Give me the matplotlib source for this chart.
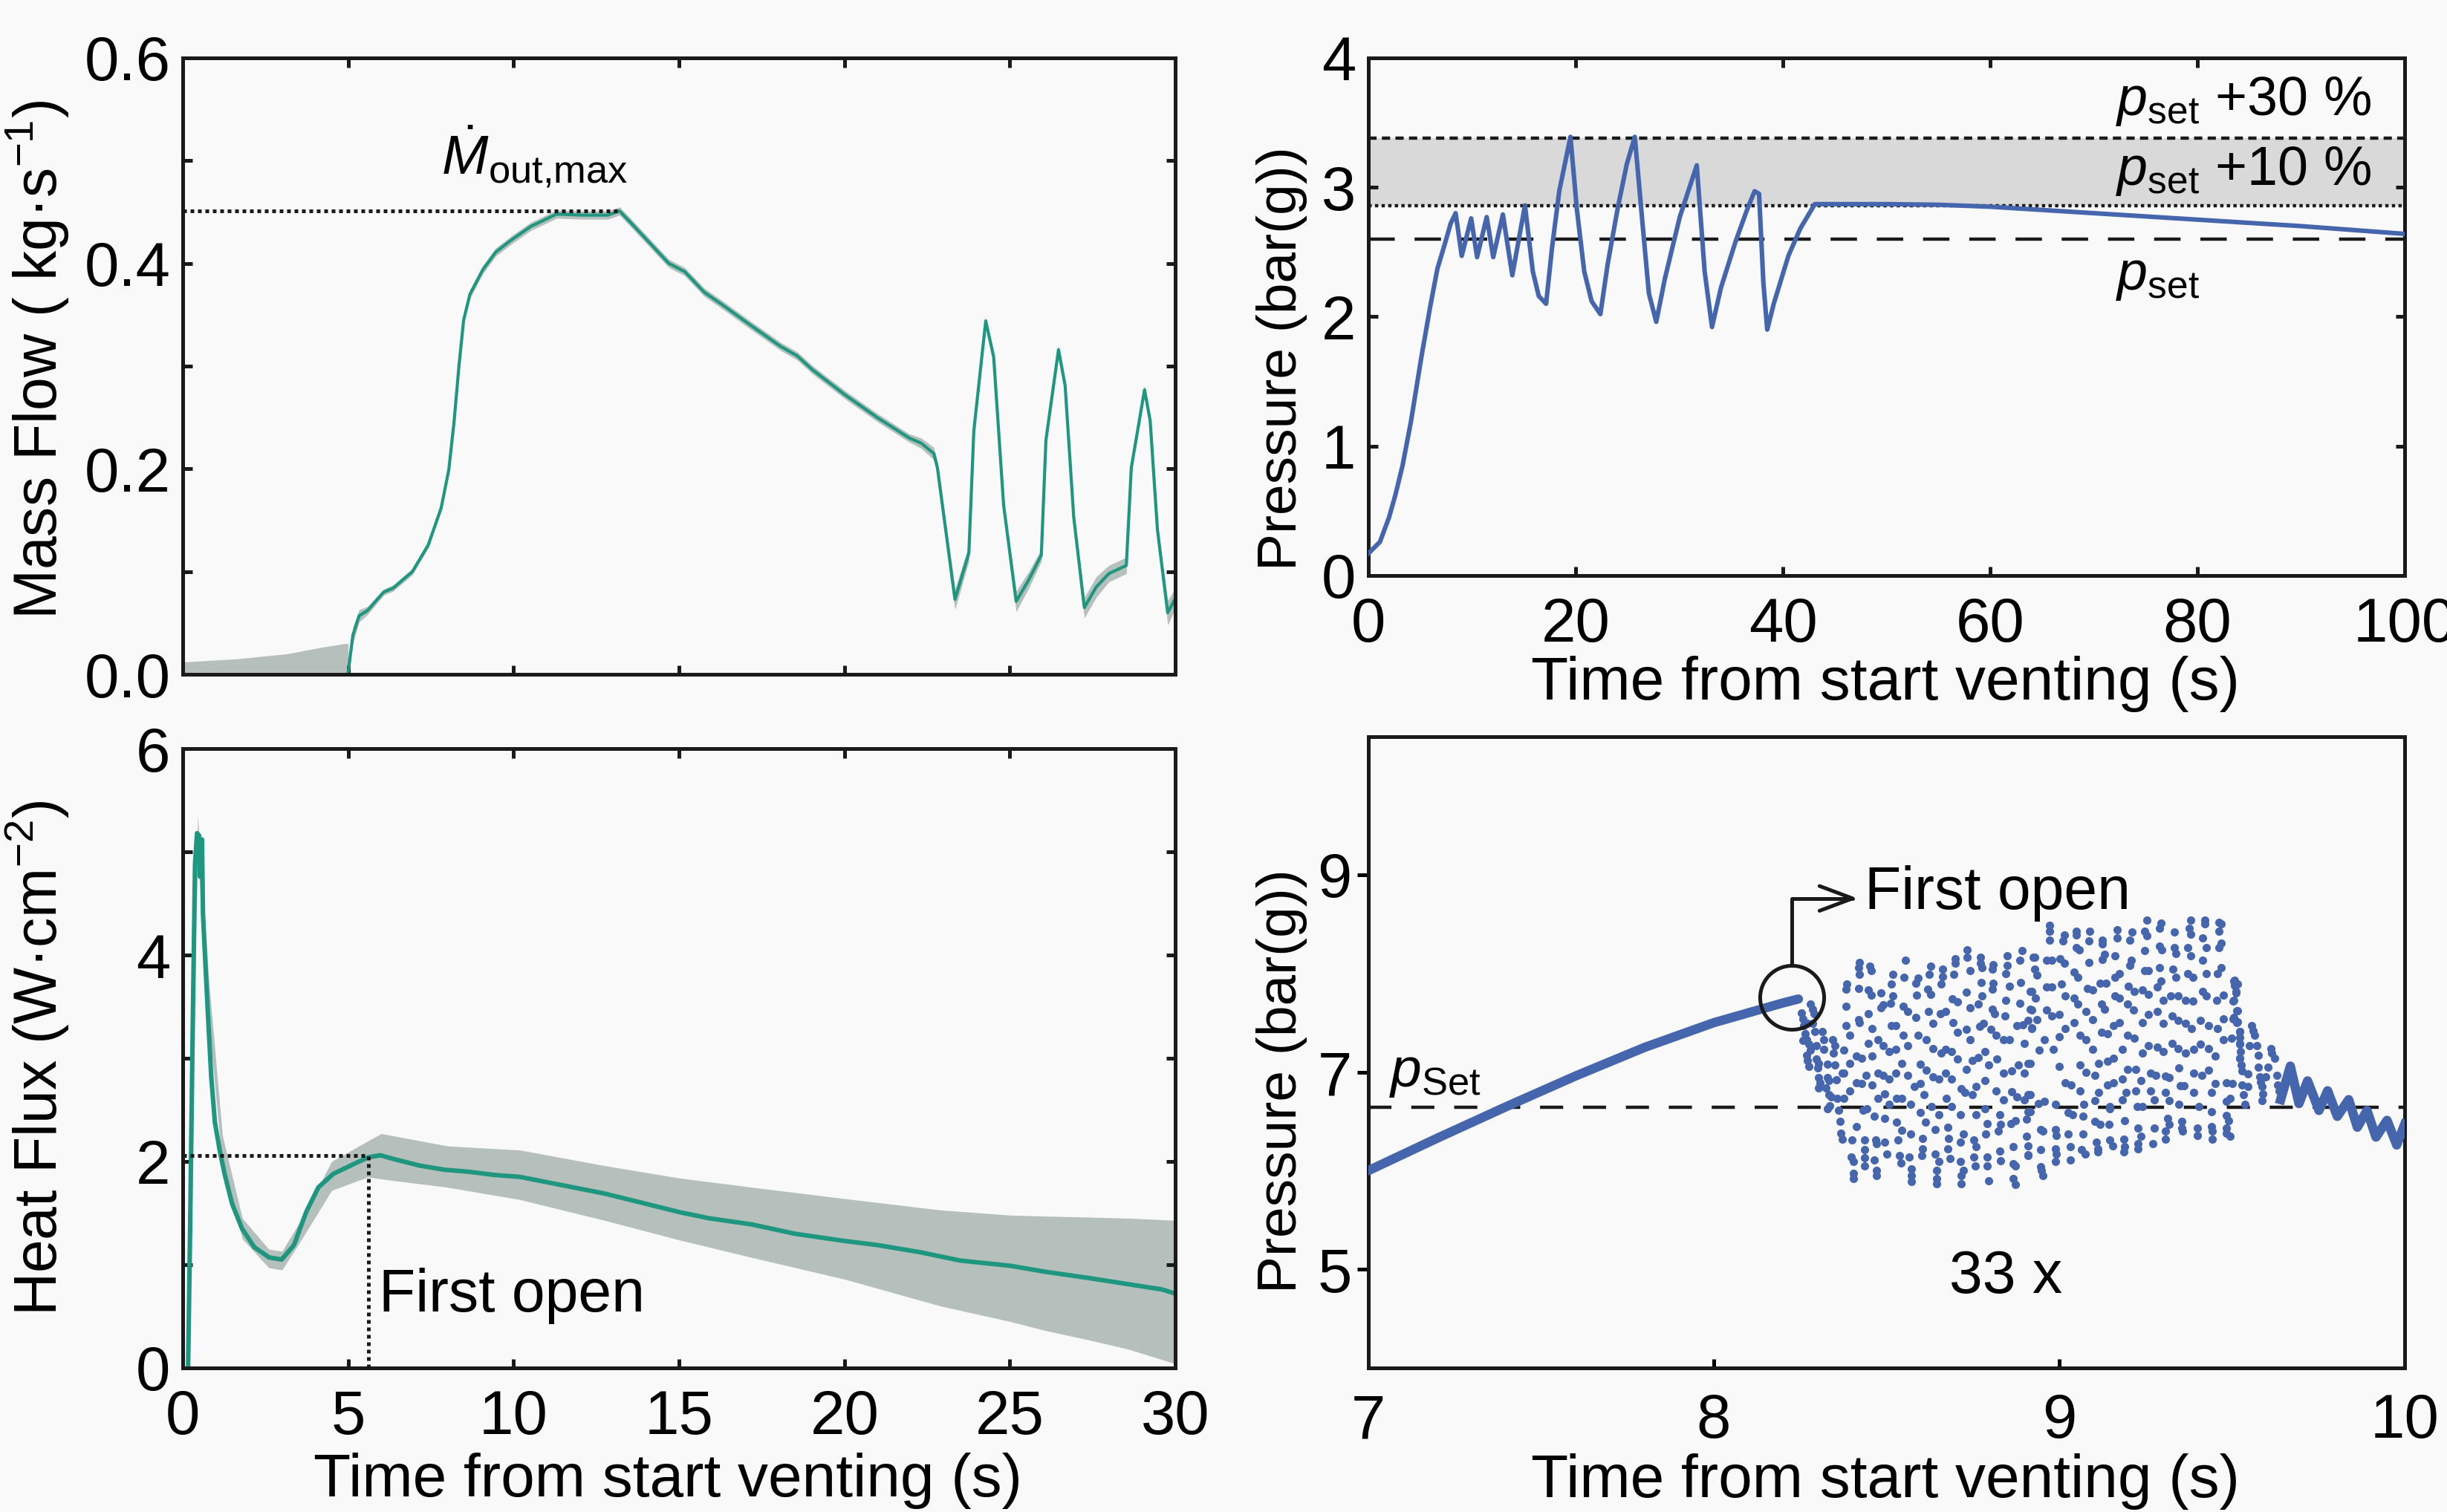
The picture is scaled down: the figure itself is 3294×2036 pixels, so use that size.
import numpy as np
import matplotlib
matplotlib.use('Agg')
import matplotlib.pyplot as plt

REGULAR = ['Liberation Sans', 'DejaVu Sans']
plt.rcParams['font.family'] = REGULAR
plt.rcParams['mathtext.fontset'] = 'custom'
plt.rcParams['mathtext.rm'] = 'Liberation Sans'
plt.rcParams['mathtext.it'] = 'Liberation Sans:italic'
plt.rcParams['mathtext.default'] = 'regular'

# ---- mass flow (top left) ----
mf_t = [5.0, 5.14, 5.33, 5.58, 6.07, 6.36, 6.94, 7.42, 7.81, 8.04, 8.20, 8.35, 8.49, 8.68,
        9.07, 9.46, 9.94, 10.52, 11.30, 12.07, 12.85, 13.20, 13.53, 14.11, 14.69, 15.17,
        15.76, 16.34, 17.11, 18.08, 18.57, 19.05, 20.02, 20.99, 21.96, 22.32, 22.70, 22.81,
        23.34, 23.76, 23.91, 24.27, 24.51, 24.81, 25.19, 25.57, 25.95, 26.09, 26.47, 26.67,
        26.93, 27.25, 27.61, 27.99, 28.52, 28.67, 29.07, 29.24, 29.46, 29.77, 30.0]
mf = [0.002, 0.038, 0.057, 0.062, 0.080, 0.084, 0.100, 0.126, 0.162, 0.199, 0.246, 0.301,
      0.345, 0.370, 0.394, 0.411, 0.423, 0.436, 0.448, 0.447, 0.447, 0.451, 0.440, 0.420,
      0.400, 0.392, 0.372, 0.359, 0.341, 0.319, 0.310, 0.296, 0.272, 0.250, 0.230, 0.225,
      0.215, 0.201, 0.073, 0.118, 0.237, 0.344, 0.309, 0.165, 0.071, 0.092, 0.116, 0.228,
      0.316, 0.281, 0.153, 0.065, 0.085, 0.098, 0.106, 0.201, 0.277, 0.247, 0.141, 0.060,
      0.074]
mf_sd = [0.002, 0.008, 0.006, 0.004, 0.003, 0.003, 0.003, 0.003, 0.003, 0.003, 0.003, 0.003,
         0.003, 0.004, 0.004, 0.004, 0.004, 0.004, 0.004, 0.004, 0.004, 0.004, 0.004, 0.004,
         0.004, 0.004, 0.004, 0.004, 0.004, 0.004, 0.004, 0.004, 0.004, 0.004, 0.004, 0.005,
         0.006, 0.006, 0.010, 0.008, 0.004, 0.004, 0.004, 0.004, 0.010, 0.008, 0.006, 0.004,
         0.004, 0.004, 0.004, 0.010, 0.010, 0.008, 0.008, 0.004, 0.004, 0.004, 0.004, 0.012,
         0.010]
mf_pre_t = [0.0, 1.6, 3.16, 4.13, 4.9, 5.0]
mf_pre_hi = [0.012, 0.015, 0.020, 0.026, 0.030, 0.030]

# ---- heat flux (bottom left) ----
hf_t = [0.16, 0.22, 0.30, 0.37, 0.43, 0.49, 0.52, 0.58, 0.61, 0.67, 0.75, 0.86, 0.97, 1.12,
        1.27, 1.49, 1.79, 2.16, 2.61, 2.99, 3.36, 3.73, 4.10, 4.55, 5.07, 5.60, 5.97, 6.42,
        7.16, 7.91, 8.66, 9.40, 10.2, 11.47, 12.74, 14.0, 15.0, 15.9, 17.2, 18.5, 20.0,
        21.0, 22.3, 23.5, 25.0, 26.1, 27.4, 28.6, 29.6, 30.0]
hf = [0.0, 1.31, 3.29, 4.88, 5.18, 5.16, 4.76, 5.12, 4.40, 4.00, 3.49, 2.82, 2.38, 2.10,
      1.87, 1.59, 1.35, 1.17, 1.07, 1.05, 1.19, 1.51, 1.75, 1.88, 1.96, 2.04, 2.06, 2.02,
      1.96, 1.92, 1.90, 1.87, 1.85, 1.77, 1.69, 1.59, 1.51, 1.45, 1.39, 1.30, 1.23, 1.19,
      1.12, 1.04, 0.99, 0.93, 0.87, 0.81, 0.76, 0.72]
hf_band_t = [0.3, 0.45, 0.8, 1.2, 1.8, 2.6, 3.0, 3.6, 4.5, 5.6, 6.0, 8.0, 10.2, 12.74,
             15.0, 17.2, 20.0, 22.9, 25.0, 26.1, 27.4, 28.6, 30.0]
hf_upper = [3.5, 5.35, 3.7, 2.25, 1.45, 1.15, 1.13, 1.45, 2.00, 2.20, 2.27, 2.15, 2.11,
            1.96, 1.84, 1.75, 1.64, 1.53, 1.48, 1.47, 1.46, 1.45, 1.43]
hf_lower = [3.0, 4.95, 3.3, 1.95, 1.25, 0.97, 0.95, 1.25, 1.72, 1.85, 1.83, 1.75, 1.63,
            1.43, 1.24, 1.07, 0.86, 0.60, 0.45, 0.36, 0.27, 0.18, 0.04]
first_open_t = 5.62
first_open_hf = 2.06

# ---- pressure, 0-100 s (top right) ----
p_t = [0, 0.5, 1.12, 2.0, 2.6, 3.3, 4.11, 5.10, 5.95, 6.66, 7.37, 7.94, 8.42, 9.01, 9.92,
       10.49, 11.42, 12.05, 12.98, 13.89, 15.11, 15.87, 16.44, 17.15, 17.72, 18.42, 19.50,
       20.12, 20.83, 21.54, 22.39, 23.10, 24.09, 24.94, 25.71, 26.50, 27.07, 27.78, 28.63,
       30.05, 31.69, 32.45, 33.16, 34.01, 35.43, 36.56, 37.27, 37.70, 38.12, 38.49, 39.12,
       40.53, 41.67, 43.08, 44.44, 50, 55, 60, 70, 80, 90, 100]
p = [0.17, 0.21, 0.26, 0.45, 0.62, 0.85, 1.19, 1.68, 2.07, 2.37, 2.56, 2.72, 2.80, 2.47,
     2.76, 2.46, 2.77, 2.46, 2.79, 2.32, 2.86, 2.35, 2.16, 2.10, 2.53, 2.97, 3.39, 2.83,
     2.35, 2.12, 2.02, 2.41, 2.85, 3.18, 3.39, 2.68, 2.18, 1.96, 2.30, 2.77, 3.17, 2.35,
     1.92, 2.22, 2.58, 2.83, 2.97, 2.95, 2.26, 1.90, 2.10, 2.47, 2.68, 2.87, 2.87, 2.87,
     2.865, 2.85, 2.80, 2.75, 2.70, 2.64]
p_set = 2.6

# ---- pressure, 7-10 s (bottom right) ----
ramp_t = [7.0, 7.2, 7.4, 7.6, 7.8, 8.0, 8.1, 8.2, 8.245]
ramp_p = [6.00, 6.33, 6.65, 6.96, 7.25, 7.50, 7.60, 7.70, 7.74]
tail_t = [9.641, 9.669, 9.694, 9.719, 9.752, 9.777, 9.805, 9.838, 9.863, 9.891, 9.917,
          9.949, 9.977, 10.0]
tail_p = [6.72, 7.06, 6.68, 6.91, 6.61, 6.81, 6.55, 6.72, 6.44, 6.61, 6.34, 6.51, 6.26, 6.47]
burst_points = [
    (8.279, 7.69), (8.286, 7.64), (8.290, 7.59), (8.254, 7.60), (8.257, 7.54), (8.261, 7.47),
    (8.272, 7.49), (8.286, 7.49), (8.265, 7.39), (8.268, 7.33), (8.257, 7.32), (8.293, 7.41),
    (8.315, 7.41), (8.318, 7.33), (8.275, 7.28), (8.279, 7.22), (8.297, 7.27), (8.318, 7.23),
    (8.343, 7.33), (8.351, 7.27), (8.347, 7.19), (8.268, 7.17), (8.272, 7.12), (8.275, 7.06),
    (8.297, 7.13), (8.304, 7.09), (8.329, 7.08), (8.351, 7.07), (8.372, 6.99), (8.300, 7.04),
    (8.304, 6.94), (8.308, 6.89), (8.304, 6.84), (8.329, 6.94), (8.333, 6.91), (8.354, 6.92),
    (8.325, 6.84), (8.333, 6.77), (8.340, 6.75), (8.358, 6.73), (8.376, 6.73), (8.336, 6.66),
    (8.329, 6.63), (8.361, 6.61),
    (8.734, 8.24), (8.734, 8.16), (8.698, 8.15), (8.698, 8.10), (8.772, 8.16), (8.772, 8.10),
    (8.777, 8.06), (8.809, 8.09), (8.806, 8.04), (8.849, 8.18), (8.849, 8.08), (8.892, 8.23),
    (8.885, 8.13), (8.924, 8.16), (8.422, 8.11), (8.419, 8.06), (8.451, 8.07), (8.455, 8.03),
    (8.422, 7.99), (8.555, 8.13), (8.519, 7.99), (8.551, 7.96), (8.627, 8.07), (8.623, 7.99),
    (8.662, 8.04), (8.662, 7.97), (8.659, 7.89), (8.591, 7.95), (8.584, 7.90), (8.695, 7.99),
    (8.741, 8.03), (8.845, 8.00), (8.809, 7.90), (8.806, 7.84), (8.386, 7.89), (8.383, 7.84),
    (8.419, 7.85), (8.447, 7.83), (8.455, 7.78), (8.483, 7.80), (8.515, 7.89), (8.519, 7.77),
    (8.512, 7.70), (8.587, 7.78), (8.619, 7.84), (8.627, 7.79), (8.731, 7.81), (8.774, 7.91),
    (8.777, 7.77), (8.691, 7.74), (8.705, 7.71), (8.741, 7.65), (8.766, 7.69), (8.806, 7.64),
    (8.813, 7.59), (8.845, 7.73), (8.856, 7.87), (8.888, 7.91), (8.885, 7.70), (8.842, 7.57),
    (8.917, 7.64), (8.917, 7.82), (8.383, 7.67), (8.447, 7.59), (8.419, 7.53), (8.422, 7.50),
    (8.483, 7.65), (8.490, 7.68), (8.548, 7.67), (8.562, 7.61), (8.586, 7.55), (8.622, 7.61),
    (8.634, 7.49), (8.655, 7.59), (8.670, 7.61), (8.693, 7.50), (8.705, 7.40), (8.731, 7.43),
    (8.741, 7.33), (8.770, 7.46), (8.781, 7.49), (8.802, 7.43), (8.817, 7.37), (8.838, 7.33),
    (8.856, 7.33), (8.878, 7.47), (8.895, 7.48), (8.921, 7.45), (8.383, 7.47), (8.394, 7.37),
    (8.458, 7.44), (8.515, 7.47), (8.526, 7.47), (8.476, 7.33), (8.490, 7.27), (8.447, 7.29),
    (8.548, 7.37), (8.562, 7.27), (8.591, 7.37), (8.616, 7.33), (8.634, 7.24), (8.659, 7.19),
    (8.670, 7.23), (8.688, 7.21), (8.705, 7.13), (8.731, 7.03), (8.748, 7.12), (8.766, 7.15),
    (8.784, 7.21), (8.795, 7.07), (8.820, 7.13), (8.838, 6.99), (8.863, 7.01), (8.881, 7.07),
    (8.899, 6.99), (8.899, 7.29), (8.917, 7.09), (8.376, 7.22), (8.412, 7.16), (8.429, 7.14),
    (8.458, 7.16), (8.508, 7.21), (8.526, 7.23), (8.544, 7.09), (8.598, 7.08), (8.616, 7.02),
    (8.634, 6.95), (8.652, 6.93), (8.670, 6.99), (8.688, 6.93), (8.716, 6.83), (8.727, 6.79),
    (8.748, 6.77), (8.759, 6.85), (8.784, 6.91), (8.817, 6.81), (8.838, 6.72), (8.863, 6.80),
    (8.878, 6.75), (8.899, 6.72), (8.917, 6.77), (8.394, 7.09), (8.376, 6.99), (8.394, 6.81),
    (8.412, 6.89), (8.429, 6.88), (8.440, 6.97), (8.458, 6.87), (8.476, 6.99), (8.490, 6.97),
    (8.508, 6.93), (8.526, 6.99), (8.562, 6.97), (8.580, 6.85), (8.598, 6.88), (8.609, 6.77),
    (8.630, 6.65), (8.673, 6.73), (8.688, 6.65), (8.713, 6.57), (8.759, 6.57), (8.784, 6.63),
    (8.792, 6.48), (8.827, 6.57), (8.831, 6.47), (8.860, 6.48), (8.874, 6.51), (8.906, 6.52),
    (8.917, 6.60), (8.476, 6.73), (8.494, 6.78), (8.508, 6.67), (8.530, 6.73), (8.544, 6.73),
    (8.569, 6.67), (8.598, 6.59), (8.612, 6.49), (8.652, 6.57), (8.641, 6.42), (8.677, 6.44),
    (8.680, 6.33), (8.713, 6.29), (8.723, 6.37), (8.752, 6.31), (8.759, 6.24), (8.788, 6.37),
    (8.824, 6.40), (8.827, 6.20), (8.831, 6.10), (8.867, 6.24), (8.867, 6.07), (8.874, 6.05),
    (8.906, 6.35), (8.910, 6.16), (8.433, 6.61), (8.444, 6.63), (8.465, 6.55), (8.494, 6.53),
    (8.530, 6.49), (8.544, 6.41), (8.569, 6.37), (8.605, 6.33), (8.605, 6.22), (8.602, 6.15),
    (8.641, 6.17), (8.652, 6.09), (8.677, 6.22), (8.684, 6.12), (8.713, 6.09), (8.723, 6.00),
    (8.716, 5.95), (8.752, 6.14), (8.756, 6.05), (8.792, 6.14), (8.792, 6.05), (8.795, 5.90),
    (8.867, 5.92), (8.874, 5.86), (8.365, 6.50), (8.368, 6.38), (8.372, 6.32), (8.401, 6.31),
    (8.412, 6.45), (8.437, 6.31), (8.437, 6.21), (8.469, 6.31), (8.472, 6.27), (8.494, 6.29),
    (8.501, 6.17), (8.533, 6.31), (8.537, 6.15), (8.541, 6.08), (8.566, 6.14), (8.573, 6.02),
    (8.573, 5.95), (8.573, 5.89), (8.645, 6.00), (8.645, 5.92), (8.645, 5.87), (8.716, 5.87),
    (8.397, 6.14), (8.404, 6.09), (8.437, 6.13), (8.437, 6.05), (8.465, 6.11), (8.472, 6.00),
    (8.472, 5.95), (8.404, 5.97), (8.404, 5.92),
    (9.254, 8.54), (9.294, 8.51), (9.290, 8.46), (9.380, 8.54), (9.421, 8.54), (9.421, 8.50),
    (9.462, 8.52), (9.469, 8.50), (8.971, 8.49), (8.971, 8.43), (8.971, 8.34), (9.014, 8.39),
    (9.010, 8.33), (9.050, 8.43), (9.050, 8.39), (9.089, 8.43), (9.086, 8.33), (9.125, 8.34),
    (9.125, 8.30), (9.168, 8.44), (9.168, 8.36), (9.211, 8.42), (9.204, 8.34), (9.247, 8.43),
    (9.254, 8.38), (9.333, 8.42), (9.376, 8.46), (9.380, 8.40), (9.415, 8.36), (9.462, 8.43),
    (9.462, 8.26), (9.469, 8.31), (8.928, 8.16), (8.928, 8.04), (8.935, 7.98), (8.964, 8.13),
    (8.978, 8.13), (9.003, 8.15), (9.014, 8.10), (9.050, 8.26), (9.057, 8.24), (9.086, 8.11),
    (9.132, 8.19), (9.125, 8.14), (9.161, 8.18), (9.208, 8.13), (9.204, 8.08), (9.247, 8.23),
    (9.247, 8.03), (9.258, 8.03), (9.290, 8.28), (9.297, 8.24), (9.290, 8.06), (9.333, 8.26),
    (9.337, 8.20), (9.337, 7.96), (9.329, 8.04), (9.372, 8.26), (9.380, 8.18), (9.372, 8.00),
    (9.387, 7.96), (9.415, 8.13), (9.426, 8.26), (9.426, 8.00), (9.458, 8.00), (9.469, 8.06),
    (8.921, 7.82), (8.932, 7.75), (8.964, 7.86), (8.978, 7.86), (9.007, 7.89), (9.018, 7.77),
    (9.043, 8.01), (9.053, 7.96), (9.043, 7.75), (9.053, 7.69), (9.082, 7.85), (9.096, 7.83),
    (9.118, 7.90), (9.136, 7.90), (9.161, 7.96), (9.175, 8.00), (9.161, 7.77), (9.175, 7.75),
    (9.200, 7.87), (9.218, 7.82), (9.197, 7.69), (9.215, 7.63), (9.240, 7.83), (9.258, 7.79),
    (9.283, 7.86), (9.294, 7.92), (9.301, 7.73), (9.322, 7.77), (9.344, 7.77), (9.365, 7.73),
    (9.387, 7.72), (9.415, 7.82), (9.426, 7.77), (9.455, 7.73), (9.476, 7.78), (9.505, 7.92),
    (9.512, 7.82), (9.516, 7.89), (9.505, 7.73), (8.921, 7.63), (8.935, 7.53), (8.921, 7.44),
    (8.964, 7.63), (8.978, 7.57), (9.000, 7.58), (9.018, 7.44), (9.043, 7.50), (9.078, 7.61),
    (9.096, 7.53), (9.122, 7.69), (9.132, 7.64), (9.157, 7.47), (9.175, 7.50), (9.240, 7.50),
    (9.258, 7.58), (9.283, 7.61), (9.301, 7.49), (9.326, 7.57), (9.344, 7.52), (9.365, 7.49),
    (9.383, 7.44), (9.408, 7.52), (9.433, 7.47), (9.458, 7.44), (9.476, 7.54), (9.505, 7.55),
    (9.516, 7.51), (9.516, 7.62), (9.523, 7.41), (8.957, 7.33), (8.942, 7.22), (8.982, 7.23),
    (9.000, 7.36), (9.061, 7.37), (9.078, 7.33), (9.096, 7.23), (9.122, 7.40), (9.139, 7.39),
    (9.114, 7.09), (9.139, 7.11), (9.157, 7.14), (9.182, 7.23), (9.197, 7.37), (9.218, 7.34),
    (9.240, 7.19), (9.258, 7.27), (9.283, 7.25), (9.301, 7.21), (9.326, 7.29), (9.344, 7.24),
    (9.365, 7.19), (9.390, 7.23), (9.408, 7.28), (9.433, 7.24), (9.451, 7.16), (9.476, 7.33),
    (9.498, 7.34), (9.523, 7.28), (9.523, 7.14), (9.000, 7.06), (9.018, 6.89), (9.035, 6.87),
    (9.061, 7.07), (9.078, 7.00), (9.104, 6.97), (9.139, 6.87), (9.157, 6.89), (9.182, 6.93),
    (9.197, 7.03), (9.222, 7.03), (9.236, 6.91), (9.265, 6.99), (9.279, 6.97), (9.308, 6.96),
    (9.319, 6.94), (9.347, 7.04), (9.351, 6.86), (9.362, 6.86), (9.390, 6.99), (9.412, 6.97),
    (9.433, 7.02), (9.451, 6.88), (9.484, 6.89), (9.502, 6.88), (8.939, 6.68), (8.957, 6.70),
    (8.989, 6.67), (9.061, 6.81), (9.071, 6.67), (9.104, 6.71), (9.114, 6.79), (9.147, 6.65),
    (9.182, 6.72), (9.193, 6.79), (9.222, 6.81), (9.225, 6.65), (9.240, 6.65), (9.265, 6.81),
    (9.276, 6.72), (9.308, 6.79), (9.319, 6.71), (9.347, 6.67), (9.390, 6.79), (9.405, 6.65),
    (9.441, 6.79), (9.484, 6.70), (9.494, 6.73), (9.025, 6.59), (9.039, 6.57), (9.068, 6.55),
    (9.104, 6.50), (9.118, 6.47), (9.147, 6.63), (9.143, 6.47), (9.190, 6.51), (9.229, 6.43),
    (9.236, 6.35), (9.276, 6.43), (9.315, 6.53), (9.319, 6.47), (9.308, 6.40), (9.308, 6.32),
    (9.355, 6.50), (9.355, 6.43), (9.358, 6.40), (9.401, 6.43), (9.401, 6.36), (9.441, 6.60),
    (9.441, 6.45), (9.444, 6.40), (9.444, 6.32), (9.484, 6.56), (9.491, 6.51), (9.484, 6.43),
    (9.484, 6.38), (9.494, 6.35), (8.946, 6.42), (8.953, 6.40), (8.946, 6.21), (8.946, 6.04),
    (8.949, 6.00), (8.953, 5.95), (8.989, 6.42), (8.992, 6.36), (8.989, 6.22), (8.992, 6.17),
    (8.989, 6.09), (9.025, 6.37), (9.032, 6.24), (9.032, 6.11), (9.068, 6.37), (9.064, 6.21),
    (9.075, 6.17), (9.107, 6.29), (9.111, 6.22), (9.111, 6.19), (9.147, 6.31), (9.154, 6.25),
    (9.186, 6.32), (9.190, 6.24), (9.186, 6.19), (9.229, 6.27), (9.229, 6.22), (9.272, 6.27),
    (8.910, 6.25), (8.910, 6.15), (8.910, 6.77), (8.910, 6.60), (8.910, 7.09), (8.910, 7.52),
    # streaks where the burst settles
    (9.508, 7.93), (9.508, 7.88), (9.512, 7.80), (9.504, 7.72), (9.515, 7.62), (9.504, 7.54),
    (9.515, 7.50), (9.522, 7.41), (9.522, 7.35), (9.522, 7.29), (9.524, 7.21), (9.522, 7.14),
    (9.529, 7.01), (9.547, 6.98), (9.529, 6.87), (9.547, 6.85), (9.533, 6.77), (9.537, 6.67),
    (9.558, 7.47), (9.565, 7.37), (9.551, 7.27), (9.572, 7.27), (9.576, 7.17), (9.576, 7.05),
    (9.580, 6.95), (9.598, 6.95), (9.587, 6.85), (9.587, 6.71), (9.590, 6.78), (9.612, 7.24),
    (9.623, 7.14), (9.605, 7.05), (9.630, 6.97), (9.633, 6.87), (9.641, 6.75), (9.562, 7.42),
    (9.616, 7.19), (9.527, 7.07), (9.583, 6.90), (9.636, 6.81),
]
p_set_zoom = 6.64
open_t, open_p = 8.226, 7.76

teal = '#1e9680'
band_gray = '#b5bfbc'
blue = '#4565ad'
bg = '#f9f9f9'
TICK = 30
LAB = 29.5
ANN = 29
SUB = 27


def style_axes(ax, in_all=True):
    """Spines, tick direction and tick label size for one panel."""
    ax.set_facecolor(bg)
    for s in ax.spines.values():
        s.set_linewidth(1.8)
        s.set_color('#1a1a1a')
    if in_all:
        ax.tick_params(which='both', direction='in', length=4.5, width=1.8,
                       top=True, right=True, labelsize=TICK, color='#1a1a1a')
        ax.tick_params(axis='x', pad=10)
        ax.tick_params(axis='y', pad=6)


fig = plt.figure(figsize=(16.47, 10.18), dpi=200, facecolor=bg)
ax_mf = fig.add_axes([0.0747, 0.554, 0.4056, 0.4077])
ax_hf = fig.add_axes([0.0747, 0.0953, 0.4056, 0.4096])
ax_p = fig.add_axes([0.5592, 0.6194, 0.4235, 0.3423])
ax_z = fig.add_axes([0.5592, 0.0953, 0.4235, 0.4175])

# top left: mass flow
style_axes(ax_mf)
mf_t_a = np.array(mf_t)
mf_a = np.array(mf)
mf_sd_a = np.array(mf_sd)
ax_mf.fill_between(mf_pre_t, 0, mf_pre_hi, color=band_gray, lw=0)
ax_mf.fill_between(mf_t_a, mf_a - mf_sd_a, mf_a + mf_sd_a, color=band_gray, lw=0)
ax_mf.plot(mf_t_a, mf_a, color=teal, lw=1.5)
i_max = int(np.argmax(mf_a))
ax_mf.hlines(mf_a[i_max], 0, mf_t_a[i_max], colors='#1a1a1a', lw=1.8,
             linestyles=(0, (1, 1)))
ax_mf.text(7.82, 0.487, r'$\dot{\mathit{M}}_{out{,}max}$', fontsize=SUB, ha='left',
           va='baseline')
ax_mf.set_xlim(0, 30)
ax_mf.set_ylim(0, 0.6)
ax_mf.set_xticks(np.arange(0, 31, 5))
ax_mf.set_xticklabels([])
ax_mf.set_yticks([0.0, 0.2, 0.4, 0.6])
ax_mf.set_yticks([0.1, 0.3, 0.5], minor=True)
ax_mf.set_yticklabels(['0.0', '0.2', '0.4', '0.6'])
ax_mf.set_ylabel('Mass Flow ( kg·s$^{-1}$)', fontsize=29)
ax_mf.yaxis.set_label_coords(-0.113, 0.51)

# bottom left: heat flux
style_axes(ax_hf)
ax_hf.fill_between(hf_band_t, hf_lower, hf_upper, color=band_gray, lw=0)
ax_hf.plot(hf_t, hf, color=teal, lw=2.2)
ax_hf.hlines(first_open_hf, 0, first_open_t, colors='#1a1a1a', lw=1.8,
             linestyles=(0, (1, 1)))
ax_hf.vlines(first_open_t, 0, first_open_hf, colors='#1a1a1a', lw=1.8,
             linestyles=(0, (1, 1)))
ax_hf.text(5.93, 0.55, 'First open', fontsize=ANN, ha='left', va='baseline')
ax_hf.set_xlim(0, 30)
ax_hf.set_ylim(0, 6)
ax_hf.set_xticks(np.arange(0, 31, 5))
ax_hf.set_yticks([0, 2, 4, 6])
ax_hf.set_yticks([1, 3, 5], minor=True)
ax_hf.set_ylabel('Heat Flux (W·cm$^{-2}$)', fontsize=29)
ax_hf.yaxis.set_label_coords(-0.113, 0.5)
ax_hf.set_xlabel('Time from start venting (s)', fontsize=LAB)
ax_hf.xaxis.set_label_coords(0.489, -0.137)

# top right: pressure over 100 s
style_axes(ax_p)
ax_p.axhspan(1.1 * p_set, 1.3 * p_set, color='#d9d9d9', lw=0, zorder=1)
ax_p.axhline(1.3 * p_set, color='#1a1a1a', lw=1.6, ls=(0, (2.5, 1.6)), zorder=2)
ax_p.axhline(1.1 * p_set, color='#1a1a1a', lw=1.6, ls=(0, (1, 1)), zorder=2)
ax_p.axhline(p_set, color='#1a1a1a', lw=1.6, ls=(0, (8, 6)), zorder=2)
ax_p.plot(p_t, p, color=blue, lw=2.2, zorder=3)
ax_p.text(72.1, 3.56, r'$\mathit{p}_{set}$ +30 %', fontsize=26.5, va='baseline')
ax_p.text(72.1, 3.02, r'$\mathit{p}_{set}$ +10 %', fontsize=26.5, va='baseline')
ax_p.text(72.1, 2.21, r'$\mathit{p}_{set}$', fontsize=26.5, va='baseline')
ax_p.set_xlim(0, 100)
ax_p.set_ylim(0, 4)
ax_p.set_xticks(np.arange(0, 101, 20))
ax_p.set_yticks(np.arange(0, 5, 1))
ax_p.set_ylabel('Pressure (bar(g))', fontsize=27)
ax_p.yaxis.set_label_coords(-0.059, 0.42)
ax_p.set_xlabel('Time from start venting (s)', fontsize=LAB)
ax_p.xaxis.set_label_coords(0.499, -0.155)

# bottom right: zoom on first opening
style_axes(ax_z, in_all=False)
ax_z.tick_params(axis='x', direction='in', length=4.5, width=1.8, labelsize=TICK,
                 pad=12, top=False)
ax_z.tick_params(axis='y', direction='out', length=5.5, width=1.8, labelsize=TICK,
                 pad=2.5, right=False)
burst = np.array(burst_points)
ax_z.axhline(p_set_zoom, color='#1a1a1a', lw=1.6, ls=(0, (7, 6)), zorder=2)
ax_z.plot(ramp_t, ramp_p, color=blue, lw=4.5, solid_capstyle='round', zorder=3)
ax_z.plot(tail_t, tail_p, color=blue, lw=4.5, solid_joinstyle='round', zorder=3)
ax_z.scatter(burst[:, 0], burst[:, 1], s=16, color=blue, lw=0, zorder=3)
ax_z.plot(open_t, open_p, marker='o', ms=31, mfc='none', mec='#1a1a1a', mew=1.8,
          zorder=4)
ax_z.annotate('', xy=(8.417, 8.76), xytext=(open_t, 8.08),
              arrowprops=dict(arrowstyle='->,head_length=0.4,head_width=0.15',
                              connectionstyle='angle,angleA=90,angleB=0,rad=0',
                              color='#1a1a1a', lw=1.8, shrinkA=0, shrinkB=0,
                              mutation_scale=40))
ax_z.text(8.437, 8.65, 'First open', fontsize=ANN, va='baseline')
ax_z.text(8.845, 4.76, '33 x', fontsize=ANN, ha='center', va='baseline')
ax_z.text(7.06, 6.85, r'$\mathit{p}_{Set}$', fontsize=SUB, va='baseline')
ax_z.set_xlim(7, 10)
ax_z.set_ylim(4, 10.4)
ax_z.set_xticks([7, 8, 9, 10])
ax_z.set_yticks([5, 7, 9])
ax_z.set_ylabel('Pressure (bar(g))', fontsize=27)
ax_z.yaxis.set_label_coords(-0.059, 0.454)
ax_z.set_xlabel('Time from start venting (s)', fontsize=LAB)
ax_z.xaxis.set_label_coords(0.499, -0.135)

fig.savefig('out.png', dpi=200, facecolor=bg)
